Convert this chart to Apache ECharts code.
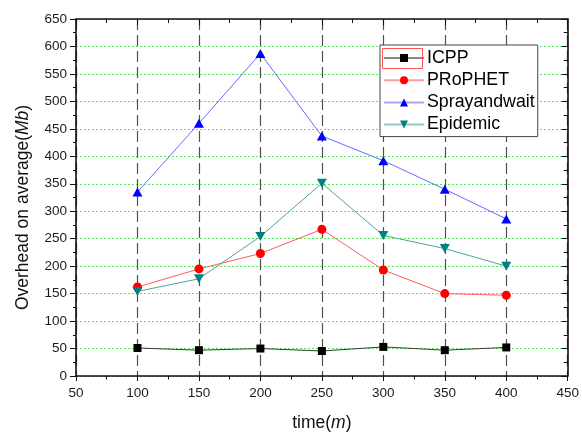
<!DOCTYPE html>
<html>
<head>
<meta charset="utf-8">
<script src="https://cdn.jsdelivr.net/npm/echarts@6/dist/echarts.min.js"></script>
<style>
  html, body { margin: 0; padding: 0; background: #ffffff; }
  #chart { width: 582px; height: 437px; }
</style>
</head>
<body>
<div id="chart"></div>
<script>
// Simulation time (minutes) on the x axis
const times = [100, 150, 200, 250, 300, 350, 400];

// Average overhead (Mb) per routing protocol
const icpp = [51, 47, 50, 45.5, 53, 47, 52];
const prophet = [162, 195, 223, 267, 193, 150, 147];
const sprayAndWait = [335, 460, 587, 437, 392, 340, 286];
const epidemic = [154, 177, 254, 351, 256, 232, 200];

const seriesNames = ['ICPP', 'PRoPHET', 'Sprayandwait', 'Epidemic'];

const FONT = "'Liberation Sans', Arial, sans-serif";

function pairs(values) {
  return times.map((t, i) => [t, values[i]]);
}

function lineSeries(name, values, symbol, size, fill, stroke, rotate) {
  return {
    name: name,
    type: 'line',
    data: pairs(values),
    symbol: symbol,
    symbolSize: size,
    symbolRotate: rotate || 0,
    showAllSymbol: true,
    itemStyle: { color: fill, borderWidth: 0 },
    lineStyle: { color: stroke, width: 1 },
    emphasis: { disabled: true },
    animation: false
  };
}

const chart = echarts.init(document.getElementById('chart'), null, { renderer: 'canvas' });

const baseTick = { lineStyle: { color: '#111', width: 1 } };

chart.setOption({
  backgroundColor: '#ffffff',
  animation: false,
  grid: { left: 76, right: 11, top: 19, height: 363, containLabel: false },
  legend: {
    data: seriesNames,
    orient: 'vertical',
    left: 380,
    top: 45,
    padding: [4, 3, 3, 3],
    itemWidth: 40,
    itemHeight: 10,
    itemGap: 4.2,
    borderColor: '#444',
    borderWidth: 1,
    backgroundColor: '#ffffff',
    selectedMode: false,
    lineStyle: { width: 2, opacity: 0.6 },
    textStyle: { fontFamily: FONT, fontSize: 17.8, color: '#000', padding: [0, 0, 0, -2] }
  },
  xAxis: [
    {
      type: 'value',
      position: 'bottom',
      min: 50, max: 450, interval: 50,
      name: 'time({i|m})',
      nameLocation: 'middle',
      nameGap: 38,
      nameTextStyle: {
        fontFamily: FONT, fontSize: 17.5, color: '#111',
        rich: { i: { fontFamily: FONT, fontSize: 17.5, fontStyle: 'italic', color: '#111' } }
      },
      axisLine: { show: true, onZero: false, lineStyle: { color: '#111', width: 1.6 } },
      axisTick: Object.assign({ show: true, length: 5, inside: false }, baseTick),
      minorTick: { show: true, splitNumber: 2, length: 3.5, lineStyle: { color: '#111', width: 1 } },
      axisLabel: { fontFamily: FONT, fontSize: 13.5, color: '#1a1a1a', margin: 10 },
      splitLine: { show: true, lineStyle: { color: '#505050', width: 1.2, type: [11, 5] } },
      minorSplitLine: { show: false }
    },
    {
      type: 'value',
      position: 'top',
      min: 50, max: 450, interval: 50,
      axisLine: { show: true, onZero: false, lineStyle: { color: '#111', width: 1.6 } },
      axisTick: Object.assign({ show: true, length: 6, inside: true }, baseTick),
      minorTick: { show: true, splitNumber: 2, length: 4, lineStyle: { color: '#111', width: 1 } },
      axisLabel: { show: false },
      splitLine: { show: false }
    }
  ],
  yAxis: [
    {
      type: 'value',
      position: 'left',
      min: 0, max: 650, interval: 50,
      name: 'Overhead on average({i|Mb})',
      nameLocation: 'middle',
      nameGap: 44,
      nameTextStyle: {
        fontFamily: FONT, fontSize: 17.5, color: '#111',
        padding: [0, 20, 0, 0],
        rich: { i: { fontFamily: FONT, fontSize: 17.5, fontStyle: 'italic', color: '#111' } }
      },
      axisLine: { show: true, onZero: false, lineStyle: { color: '#111', width: 1.6 } },
      axisTick: Object.assign({ show: true, length: 6, inside: false }, baseTick),
      minorTick: { show: true, splitNumber: 2, length: 3, lineStyle: { color: '#111', width: 1 } },
      axisLabel: { fontFamily: FONT, fontSize: 13.5, color: '#1a1a1a', margin: 9 },
      splitLine: { show: true, lineStyle: { color: '#4cf04c', width: 1, type: [2, 2] } }
    },
    {
      type: 'value',
      position: 'right',
      min: 0, max: 650, interval: 50,
      axisLine: { show: true, onZero: false, lineStyle: { color: '#111', width: 1.6 } },
      axisTick: Object.assign({ show: true, length: 6, inside: true }, baseTick),
      minorTick: { show: true, splitNumber: 2, length: 4, lineStyle: { color: '#111', width: 1 } },
      axisLabel: { show: false },
      splitLine: { show: false }
    }
  ],
  series: [
    lineSeries('ICPP', icpp, 'rect', 8, '#000000', '#3a3a3a'),
    lineSeries('PRoPHET', prophet, 'circle', 9, '#ff0000', '#ff5c5c'),
    lineSeries('Sprayandwait', sprayAndWait, 'triangle', [10, 9], '#0000ff', '#6a6aff'),
    lineSeries('Epidemic', epidemic, 'triangle', [10, 9], '#008080', '#4fa3a3', 180)
  ],
  graphic: [
    {
      // selection frame around the first legend key
      type: 'rect',
      z: 200,
      shape: { x: 382.5, y: 48.5, width: 40, height: 20 },
      style: { fill: 'none', stroke: '#ff5050', lineWidth: 1 },
      silent: true
    }
  ]
});
</script>
</body>
</html>
